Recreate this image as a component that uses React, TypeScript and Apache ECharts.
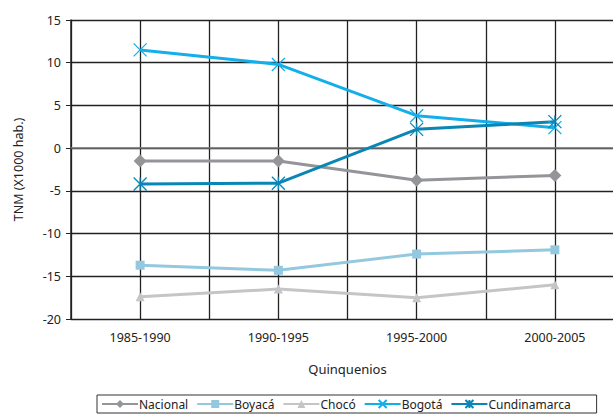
import React, { useEffect, useRef } from "react";
import * as echarts from "echarts";

const categories = ["1985-1990", "1990-1995", "1995-2000", "2000-2005"];
const nacional = [-1.5, -1.5, -3.75, -3.2];
const boyaca = [-13.7, -14.3, -12.4, -11.9];
const choco = [-17.4, -16.5, -17.5, -16.0];
const bogota = [11.5, 9.8, 3.8, 2.4];
const cundinamarca = [-4.2, -4.1, 2.2, 3.1];
const yTicks = { min: -20, max: 15, interval: 5 };

const FONT = "'Noto Sans', sans-serif";
const CROSS = "path://M0,0 L10,10 M10,0 L0,10";
const STAR = "path://M0,0 L10,10 M10,0 L0,10 M5,0 L5,10";

export default function App() {
  const ref = useRef<HTMLDivElement>(null);
  useEffect(() => {
    const chart = echarts.init(ref.current!, null, { renderer: "svg" });
    const mk = (name: string, data: number[], color: string, symbol: string, size: number, stroke = false) => ({
      name,
      type: "line",
      data,
      symbol,
      symbolSize: size,
      lineStyle: { color, width: 3 },
      itemStyle: stroke
        ? { color: "rgba(0,0,0,0)", borderColor: color, borderWidth: 1.3 }
        : { color, borderWidth: 0 },
      z: 5,
    });
    chart.setOption({
      animation: false,
      textStyle: { fontFamily: FONT },
      grid: { left: 71, right: 2, top: 20, bottom: 97, containLabel: false },
      legend: {
        top: 395,
        left: 97,
        itemGap: 8,
        itemWidth: 36,
        itemHeight: 10,
        borderColor: "#333",
        borderWidth: 1,
        borderRadius: 0,
        padding: [3, 26, 3, 4],
        textStyle: { fontFamily: FONT, fontSize: 12, color: "#222", padding: [0, 0, 0, -4] },
        data: ["Nacional", "Boyacá", "Chocó", "Bogotá", "Cundinamarca"],
      },
      xAxis: [
        {
          type: "category",
          data: categories,
          boundaryGap: true,
          name: "Quinquenios",
          nameLocation: "middle",
          nameGap: 43,
          nameTextStyle: { fontFamily: FONT, fontSize: 13, color: "#222" },
          axisLine: { show: true, lineStyle: { color: "#777", width: 1.5 } },
          axisTick: { show: false },
          axisLabel: { fontFamily: FONT, fontSize: 12.5, color: "#222", margin: 12 },
          splitLine: { show: false },
        },
        {
          type: "value",
          min: 0,
          max: 8,
          interval: 1,
          position: "bottom",
          axisLine: { show: false },
          axisTick: { show: false },
          axisLabel: { show: false },
          splitLine: { show: true, lineStyle: { color: "#222", width: 1.3 } },
        },
      ],
      yAxis: {
        type: "value",
        min: yTicks.min,
        max: yTicks.max,
        interval: yTicks.interval,
        name: "TNM (X1000 hab.)",
        nameLocation: "middle",
        nameGap: 46,
        nameTextStyle: { fontFamily: FONT, fontSize: 12.5, color: "#222" },
        axisLine: { show: true, lineStyle: { color: "#222", width: 1.5 } },
        axisTick: { show: true, length: 5, lineStyle: { color: "#222" } },
        axisLabel: { fontFamily: FONT, fontSize: 12.5, color: "#222", margin: 10 },
        splitLine: { show: true, lineStyle: { color: "#222", width: 1.3 } },
      },
      series: [
        mk("Nacional", nacional, "#939598", "diamond", 13),
        mk("Boyacá", boyaca, "#94c8df", "rect", 9),
        mk("Chocó", choco, "#c4c5c7", "triangle", 9),
        mk("Bogotá", bogota, "#12afea", CROSS, 13, true),
        mk("Cundinamarca", cundinamarca, "#0a86b6", STAR, 13, true),
      ],
    });
    return () => chart.dispose();
  }, []);
  return (
    <div style={{ width: 613, height: 416, position: "absolute", left: 0, top: 0, overflow: "hidden", background: "#fff" }}>
      <div ref={ref} style={{ width: 626, height: 416 }} />
    </div>
  );
}
